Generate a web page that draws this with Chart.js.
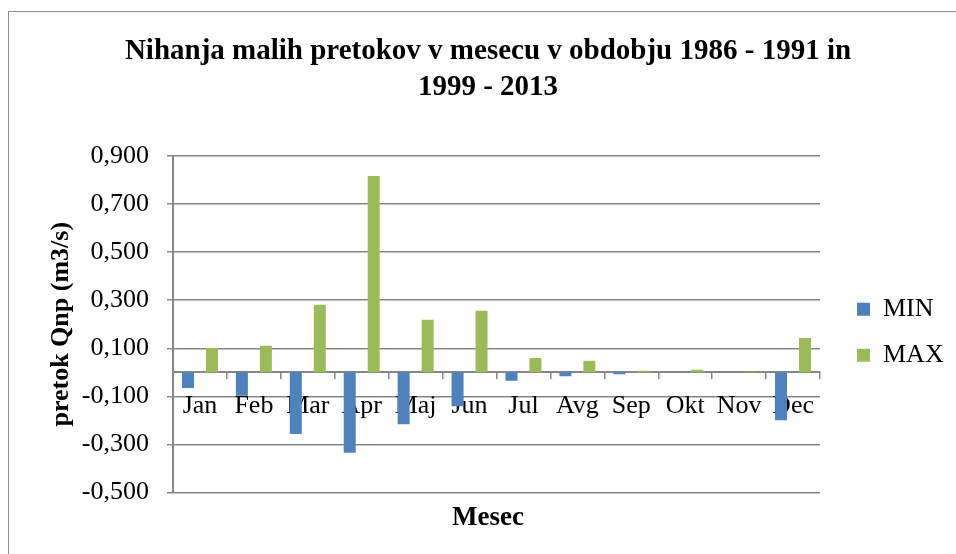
<!DOCTYPE html>
<html>
<head>
<meta charset="utf-8">
<script src="https://cdn.jsdelivr.net/npm/chart.js"></script>
<style>
  html, body { margin: 0; padding: 0; background: #fff; overflow: hidden; }
  #wrap { position: relative; width: 956px; height: 554px; }
  #frame { position: absolute; left: 8px; top: 11px; width: 1000px; height: 600px; border: 1.5px solid #8c8c8c; pointer-events: none; }
</style>
</head>
<body>
<div id="wrap">
  <canvas id="flowChart" width="956" height="554"></canvas>
  <div id="frame"></div>
</div>
<script>
// monthly low-flow swings
const months = ['Jan', 'Feb', 'Mar', 'Apr', 'Maj', 'Jun', 'Jul', 'Avg', 'Sep', 'Okt', 'Nov', 'Dec'];
const minValues = [-0.065, -0.097, -0.256, -0.334, -0.216, -0.141, -0.035, -0.016, -0.008, 0, 0, -0.199];
const maxValues = [0.101, 0.111, 0.281, 0.816, 0.219, 0.256, 0.060, 0.048, 0.007, 0.011, 0.003, 0.143];
const yTicks = [-0.5, -0.3, -0.1, 0.1, 0.3, 0.5, 0.7, 0.9];

const gridGray = '#868686';

Chart.defaults.font.family = '"Liberation Serif", "Times New Roman", serif';
Chart.defaults.color = '#000';

// keep the legend column a fixed width so the plot ends where Excel ends it
const legendBox = {
    id: 'legendBox',
    beforeLayout(chart) {
        const lg = chart.legend;
        if (lg && !lg._fixedFit) {
            const fit = lg.fit;
            lg.fit = function () {
                fit.call(this);
                this.width = 136;
            };
            lg._fixedFit = true;
        }
    },
    afterLayout(chart) {
        const lg = chart.legend;
        lg.left += 17;
        lg.right += 17;
        lg.top += 8;
        lg.bottom += 8;
    }
};

const ctx = document.getElementById('flowChart').getContext('2d');
const chart = new Chart(ctx, {
    type: 'bar',
    data: {
        labels: months,
        datasets: [
            { label: 'MIN', data: minValues, backgroundColor: '#4F81BD', borderWidth: 0 },
            { label: 'MAX', data: maxValues, backgroundColor: '#9BBB59', borderWidth: 0 }
        ]
    },
    options: {
        responsive: false,
        devicePixelRatio: 1,
        animation: false,
        categoryPercentage: 0.89,
        barPercentage: 0.5,
        layout: { padding: { left: 20, right: 0, top: 0, bottom: 0 } },
        plugins: {
            title: {
                display: true,
                text: ['Nihanja malih pretokov v mesecu v obdobju 1986 - 1991 in', '1999 - 2013'],
                font: { size: 29, weight: 'bold', lineHeight: 1.24 },
                padding: { top: 34, bottom: 50 }
            },
            subtitle: {
                display: true,
                position: 'bottom',
                text: 'Mesec',
                font: { size: 27, weight: 'bold', lineHeight: 1.2 },
                padding: { top: 9, bottom: 20 }
            },
            legend: {
                position: 'right',
                fullSize: false,
                labels: { boxWidth: 13, boxHeight: 13, padding: 20, font: { size: 26 } }
            },
            tooltip: { enabled: false }
        },
        scales: {
            x: {
                position: { y: 0 },
                grid: { drawOnChartArea: false, drawTicks: true, tickLength: 6, color: gridGray, lineWidth: 1.5, offset: true },
                border: { color: gridGray, width: 2 },
                ticks: { font: { size: 26 }, padding: 12, maxRotation: 0, autoSkip: false }
            },
            y: {
                min: -0.5,
                max: 0.9,
                afterBuildTicks: (scale) => { scale.ticks = yTicks.map(v => ({ value: v })); },
                afterFit: (scale) => { scale.width = 153; },
                grid: { color: gridGray, lineWidth: 1.5, tickLength: 6 },
                border: { color: gridGray, width: 2 },
                ticks: {
                    font: { size: 26 },
                    padding: 18,
                    callback: (value) => value.toFixed(3).replace('.', ',')
                },
                title: {
                    display: true,
                    text: 'pretok Qnp (m3/s)',
                    font: { size: 26, weight: 'bold', lineHeight: 1.2 },
                    padding: { top: 26, bottom: 0 }
                }
            }
        }
    },
    plugins: [legendBox]
});
</script>
</body>
</html>
